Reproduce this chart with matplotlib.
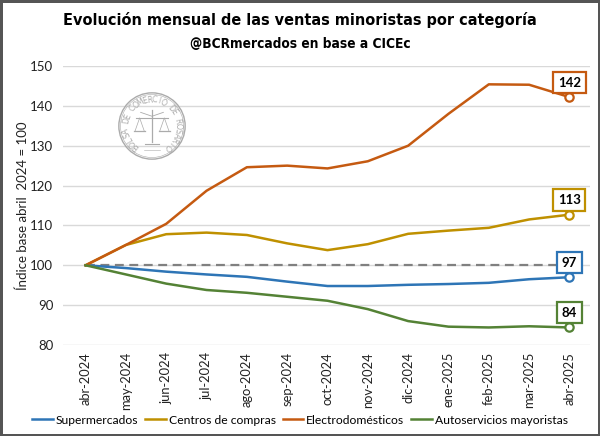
import numpy as np
import matplotlib
matplotlib.use("Agg")
import matplotlib.pyplot as plt
from matplotlib.patches import Circle
from matplotlib import font_manager

months = ["abr-2024", "may-2024", "jun-2024", "jul-2024", "ago-2024", "sep-2024",
          "oct-2024", "nov-2024", "dic-2024", "ene-2025", "feb-2025", "mar-2025", "abr-2025"]
supermercados = [100, 99.3, 98.4, 97.7, 97.1, 95.9, 94.8, 94.8, 95.1, 95.3, 95.6, 96.5, 97.0]
centros = [100, 105.1, 107.8, 108.2, 107.6, 105.5, 103.8, 105.3, 107.9, 108.7, 109.4, 111.5, 112.7]
electro = [100, 105.1, 110.4, 118.7, 124.6, 125.0, 124.3, 126.1, 130.0, 138.0, 145.4, 145.3, 142.2]
autoserv = [100, 97.7, 95.4, 93.8, 93.1, 92.1, 91.1, 89.0, 86.0, 84.6, 84.4, 84.7, 84.4]
series_names = ["Supermercados", "Centros de compras", "Electrodomésticos", "Autoservicios mayoristas"]
end_labels = ["97", "113", "142", "84"]
yticks = [80, 90, 100, 110, 120, 130, 140, 150]

colors = ["#2E75B6", "#BF9000", "#C55A11", "#548235"]

avail = {f.name for f in font_manager.fontManager.ttflist}
cond = None
for f in font_manager.fontManager.ttflist:
    fn = f.fname.lower()
    if ("condensed" in fn or "narrow" in fn) and "bold" in fn and "oblique" not in fn and "italic" not in fn:
        cond = f.fname
        break
body_font = "Lato" if "Lato" in avail else "DejaVu Sans"

fig = plt.figure(figsize=(6.0, 4.36), dpi=100)
fig.patch.set_facecolor("white")
fig.patch.set_edgecolor("#555555")
fig.patch.set_linewidth(2.5)

ax = fig.add_axes([63/600, 1 - 345/436, 527/600, 279/436])
x = np.arange(len(months))
all_series = [supermercados, centros, electro, autoserv]
for vals, c, name in zip(all_series, colors, series_names):
    ax.plot(x, vals, color=c, lw=1.8, label=name, zorder=3)
ax.plot(x, [100] * len(x), color="#808080", lw=1.6, ls=(0, (4, 2.5)), zorder=2)

for vals, c, lab in zip(all_series, colors, end_labels):
    ax.plot(x[-1], vals[-1], marker="o", ms=6, mfc="white", mec=c, mew=1.6, zorder=4)
    ax.annotate(lab, (x[-1], vals[-1]), xytext=(0, 10.5), textcoords="offset points",
                ha="center", va="center", fontsize=9.5, fontweight="bold",
                family=body_font, color="black",
                bbox=dict(boxstyle="square,pad=0.35", fc="white", ec=c, lw=1.6), zorder=5)

ax.set_xlim(-0.56, 12.51)
ax.set_ylim(80, 150)
ax.set_yticks(yticks)
ax.set_xticks(x)
ax.set_xticklabels(months, rotation=90, fontsize=9.3, family=body_font, color="#222222")
for t in ax.get_yticklabels():
    t.set_fontsize(9.5)
    t.set_family(body_font)
    t.set_color("#222222")
ax.grid(axis="y", color="#D9D9D9", lw=1)
ax.set_axisbelow(True)
for s in ax.spines.values():
    s.set_visible(False)
ax.tick_params(length=0)
ax.tick_params(axis="y", pad=7)
ax.tick_params(axis="x", pad=5)
ax.set_ylabel("Índice base abril  2024 = 100", fontsize=9.5, family=body_font, color="#222222")
ax.yaxis.set_label_coords((29 - 63) / 527, 0.5)

tkw = dict(fname=cond) if cond else dict(family="DejaVu Sans")
t1 = fig.text(0.5, 1 - 20/436, "Evolución mensual de las ventas minoristas por categoría",
              ha="center", va="center",
              fontproperties=font_manager.FontProperties(weight="bold", **tkw))
t2 = fig.text(0.5, 1 - 44/436, "@BCRmercados en base a CICEc",
              ha="center", va="center",
              fontproperties=font_manager.FontProperties(weight="bold", **tkw))

leg = fig.legend(*ax.get_legend_handles_labels(), loc="center", bbox_to_anchor=(0.5, 1 - 420/436),
                 ncol=4, frameon=False, handlelength=1.5, handletextpad=0.2, columnspacing=0.5,
                 prop={"family": body_font, "size": 10})

# fit title and legend widths
fig.canvas.draw()
r = fig.canvas.get_renderer()
for t, target, maxsize in ((t1, 472, 17), (t2, 219, 12)):
    t.set_fontsize(12)
    w = t.get_window_extent(r).width
    t.set_fontsize(min(maxsize, 12 * target / w))
w = leg.get_window_extent(r).width
size = 10 * 530 / w
for tt in leg.get_texts():
    tt.set_fontsize(size)

# Seal watermark
lax = fig.add_axes([152/600 - 0.065, 1 - 126/436 - 0.09, 0.13, 0.18])
lax.set_xlim(-1.2, 1.2)
lax.set_ylim(-1.2, 1.2)
lax.set_aspect("equal")
lax.axis("off")
seal = "#ABABAB"
lax.add_patch(Circle((0, 0), 1.02, fill=False, ec=seal, lw=1.0))
lax.add_patch(Circle((0, 0), 0.97, fill=False, ec=seal, lw=0.4))
txt = "BOLSA DE COMERCIO DE ROSARIO"
angs = np.linspace(232, -52, len(txt))
for ch, a in zip(txt, angs):
    rr = 0.80
    lax.text(rr * np.cos(np.radians(a)), rr * np.sin(np.radians(a)), ch, rotation=a - 90,
             ha="center", va="center", fontsize=5.6, color=seal, family="DejaVu Sans")
lax.plot([0, 0], [-0.5, 0.5], color=seal, lw=0.9)
lax.plot([-0.5, 0.5], [0.25, 0.25], color=seal, lw=0.8)
lax.plot([-0.35, 0, 0.35], [0.42, 0.3, 0.42], color=seal, lw=0.6)
for sx in (-0.38, 0.38):
    lax.plot([sx - 0.14, sx, sx + 0.14], [-0.15, 0.25, -0.15], color=seal, lw=0.5)
    lax.plot([sx - 0.16, sx + 0.16], [-0.15, -0.15], color=seal, lw=0.9)
lax.plot([-0.22, 0.22], [-0.55, -0.55], color=seal, lw=0.8)
lax.plot([-0.25, 0.25], [-0.75, -0.75], color=seal, lw=0.4)

fig.savefig("out.png", dpi=100, facecolor=fig.get_facecolor(), edgecolor=fig.get_edgecolor())
